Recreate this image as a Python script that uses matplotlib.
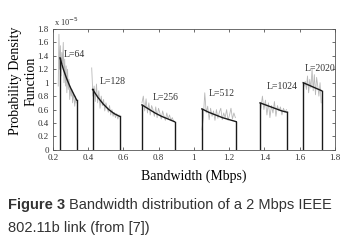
import numpy as np
import matplotlib
matplotlib.use('Agg')
import matplotlib.pyplot as plt

# packet sizes and their bandwidth ranges (Mbps)
labels = ['L=64', 'L=128', 'L=256', 'L=512', 'L=1024', 'L=2020']
x_start = [0.240, 0.425, 0.705, 1.045, 1.375, 1.620]
x_end = [0.335, 0.578, 0.890, 1.240, 1.530, 1.725]

# analytic pdf (x 1e-5), sampled evenly over each range
model_64 = [1.37, 1.20, 1.06, 0.94, 0.84, 0.74]
model_128 = [0.90, 0.78, 0.68, 0.60, 0.54, 0.50]
model_256 = [0.67, 0.61, 0.55, 0.50, 0.46, 0.42]
model_512 = [0.61, 0.56, 0.52, 0.48, 0.45, 0.42]
model_1024 = [0.70, 0.67, 0.64, 0.61, 0.58, 0.56]
model_2020 = [1.00, 0.97, 0.94, 0.91, 0.88]

# measured pdf (x 1e-5)
meas_64 = [0.95, 1.72, 1.20, 1.55, 1.10, 1.45, 1.28, 1.60, 1.00, 1.35,
           0.95, 1.25, 0.85, 1.20, 0.90, 1.05, 0.75, 0.95, 0.80, 0.90,
           0.70, 0.85, 0.75, 0.65, 0.80, 0.70]
meas_128 = [1.22, 0.80, 0.95, 0.72, 0.98, 0.70, 0.88, 0.62, 0.80, 0.66,
            0.75, 0.58, 0.70, 0.62, 0.56, 0.66, 0.52, 0.60, 0.50, 0.56,
            0.48, 0.54, 0.46, 0.52]
meas_256 = [0.70, 0.80, 0.58, 0.76, 0.55, 0.70, 0.52, 0.66, 0.60, 0.50,
            0.64, 0.48, 0.62, 0.55, 0.46, 0.58, 0.50, 0.44, 0.55, 0.46,
            0.52, 0.44, 0.48, 0.42]
meas_512 = [0.30, 0.48, 0.85, 0.55, 0.65, 0.45, 0.62, 0.50, 0.58, 0.44,
            0.60, 0.47, 0.56, 0.62, 0.45, 0.55, 0.48, 0.60, 0.44, 0.52,
            0.62, 0.46, 0.55, 0.48]
meas_1024 = [0.62, 0.80, 0.60, 0.74, 0.52, 0.70, 0.48, 0.66, 0.55, 0.72,
             0.50, 0.66, 0.58, 0.64, 0.52, 0.62, 0.56, 0.60]
meas_2020 = [0.95, 1.02, 0.90, 1.10, 0.85, 1.05, 0.92, 1.20, 0.88, 1.12,
             0.82, 1.08, 0.95, 0.80, 1.00, 0.70]

models = [model_64, model_128, model_256, model_512, model_1024, model_2020]
meas = [meas_64, meas_128, meas_256, meas_512, meas_1024, meas_2020]
meas_start = [0.230, 0.420, 0.705, 1.045, 1.380, 1.625]
meas_end = [0.332, 0.575, 0.885, 1.235, 1.525, 1.722]
label_pos = [(0.262, 1.38), (0.465, 0.98), (0.765, 0.74),
             (1.085, 0.80), (1.415, 0.90), (1.630, 1.18)]

plt.rcParams['font.family'] = 'Liberation Serif'

fig = plt.figure(figsize=(3.46, 2.47), dpi=100)
ax = fig.add_axes([0.153, 0.393, 0.815, 0.49])

for i in range(len(labels)):
  xm = np.linspace(meas_start[i], meas_end[i], len(meas[i]))
  ax.plot(xm, meas[i], color='#b8b8b8', lw=0.6, zorder=1)
  xs = np.linspace(x_start[i], x_end[i], len(models[i]))
  ax.plot(xs, models[i], color='#1a1a1a', lw=1.0, zorder=2)
  ax.plot([x_start[i], x_start[i]], [0, models[i][0]], color='#1a1a1a', lw=1.0, zorder=2)
  ax.plot([x_end[i], x_end[i]], [0, models[i][-1]], color='#1a1a1a', lw=1.0, zorder=2)
  ax.text(label_pos[i][0], label_pos[i][1], labels[i], fontsize=7, color='#333333')

ax.set_xlim(0.2, 1.8)
ax.set_ylim(0, 1.8)
ax.set_xticks(np.arange(0.2, 1.81, 0.2))
ax.set_xticklabels(['0.2', '0.4', '0.6', '0.8', '1', '1.2', '1.4', '1.6', '1.8'])
ax.set_yticks(np.arange(0, 1.81, 0.2))
ax.set_yticklabels(['0', '0.2', '0.4', '0.6', '0.8', '1', '1.2', '1.4', '1.6', '1.8'])
ax.tick_params(axis='both', direction='in', top=True, right=True, labelsize=6.5, length=2.5,
               width=0.5, colors='#333333')
ax.tick_params(axis='x', pad=3)
ax.tick_params(axis='y', pad=3)
for s in ax.spines.values():
  s.set_linewidth(0.6)
  s.set_color('#555555')

ax.text(0.005, 1.02, r'x 10$^{-5}$', transform=ax.transAxes, fontsize=6, color='#333333')
ax.set_xlabel('Bandwidth (Mbps)', fontsize=10, labelpad=5)
ax.set_ylabel('Probability Density\nFunction', fontsize=10, linespacing=1.2)
ax.yaxis.set_label_coords(-0.055, 0.57)

cap_kw = dict(fontsize=10.5, family='Liberation Sans', color='#333333')
t1 = fig.text(0.023, 0.155, 'Figure 3', weight='bold', **cap_kw)
fig.canvas.draw()
bb = t1.get_window_extent(renderer=fig.canvas.get_renderer())
x2 = bb.x1 / fig.bbox.width + 0.012
fig.text(x2, 0.155, 'Bandwidth distribution of a 2 Mbps IEEE', **cap_kw)
fig.text(0.023, 0.06, '802.11b link (from [7])', **cap_kw)

fig.savefig('out.png', dpi=100)
